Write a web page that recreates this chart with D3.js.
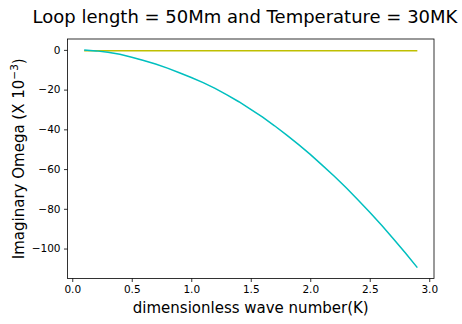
<!DOCTYPE html>
<meta charset="utf-8">
<script src="https://d3js.org/d3.v7.min.js"></script>
<style>
  body { margin: 0; background: #fff; }
  svg { display: block; font-family: "DejaVu Sans", sans-serif; }
</style>
<body>
<svg id="chart" width="462" height="324"></svg>
<script>
// wave number K
var waveK = [0.1, 0.2, 0.3, 0.4, 0.5, 0.6, 0.7, 0.8, 0.9, 1.0,
             1.1, 1.2, 1.3, 1.4, 1.5, 1.6, 1.7, 1.8, 1.9, 2.0,
             2.1, 2.2, 2.3, 2.4, 2.5, 2.6, 2.7, 2.8, 2.9];
// imaginary omega (x 10^-3), cyan curve
var omegaCyan = [0.0, -0.5, -1.2, -2.2, -3.7, -5.3, -7.1, -9.2, -11.5, -13.9,
                 -16.5, -19.4, -22.6, -26.1, -29.9, -33.9, -38.2, -42.8, -47.6, -52.6,
                 -58.0, -63.5, -69.3, -75.4, -81.7, -88.3, -95.2, -102.2, -109.6];
// yellow curve, flat near zero
var omegaYellow = [-0.4, -0.4, -0.4, -0.4, -0.4, -0.4, -0.4, -0.4, -0.4, -0.4,
                   -0.4, -0.4, -0.4, -0.4, -0.4, -0.4, -0.4, -0.4, -0.4, -0.4,
                   -0.4, -0.4, -0.4, -0.4, -0.4, -0.4, -0.4, -0.4, -0.4];
var xTicks = [0.0, 0.5, 1.0, 1.5, 2.0, 2.5, 3.0];
var yTicks = [0, -20, -40, -60, -80, -100];

var svg = d3.select("#chart");
var margin = {left: 67.5, right: 28, top: 39, bottom: 45.5};
var width = 462 - margin.left - margin.right,
    height = 324 - margin.top - margin.bottom;

// matplotlib style 5% padding
function padded(lo, hi) {
  var p = (hi - lo) * 0.05;
  return [lo - p, hi + p];
}
var allY = omegaCyan.concat(omegaYellow);
var x = d3.scaleLinear()
  .domain(padded(d3.min(waveK), d3.max(waveK)))
  .range([0, width]);
var y = d3.scaleLinear()
  .domain(padded(d3.min(allY), d3.max(allY)))
  .range([height, 0]);

var g = svg.append("g")
  .attr("transform", "translate(" + margin.left + "," + margin.top + ")");

var line = d3.line()
  .x(function (d) { return x(d[0]); })
  .y(function (d) { return y(d[1]); });

g.append("path")
  .datum(d3.zip(waveK, omegaYellow))
  .attr("d", line)
  .attr("fill", "none")
  .attr("stroke", "#bfbf00")
  .attr("stroke-width", 1.5);

g.append("path")
  .datum(d3.zip(waveK, omegaCyan))
  .attr("d", line)
  .attr("fill", "none")
  .attr("stroke", "#00bfbf")
  .attr("stroke-width", 1.5);

// axes
var xAxis = g.append("g")
  .attr("transform", "translate(0," + height + ")")
  .call(d3.axisBottom(x).tickValues(xTicks).tickFormat(d3.format(".1f"))
    .tickSize(3.5).tickPadding(3.5));
var yAxis = g.append("g")
  .call(d3.axisLeft(y).tickValues(yTicks)
    .tickFormat(function (d) { return d < 0 ? "\u2212" + Math.abs(d) : d; })
    .tickSize(3.5).tickPadding(3.5));

[xAxis, yAxis].forEach(function (a) {
  a.select(".domain").remove();
  a.selectAll("line").attr("stroke", "#000").attr("stroke-width", 0.8);
  a.selectAll("text").attr("fill", "#000")
    .style("font-family", "DejaVu Sans").style("font-size", "10.5px");
});

// frame
g.append("rect")
  .attr("width", width)
  .attr("height", height)
  .attr("fill", "none")
  .attr("stroke", "#000")
  .attr("stroke-width", 0.8);

// title + labels
svg.append("text")
  .attr("x", 245)
  .attr("y", 22.5)
  .attr("text-anchor", "middle")
  .style("font-size", "18px")
  .text("Loop length = 50Mm and Temperature = 30MK");

svg.append("text")
  .attr("x", margin.left + width / 2)
  .attr("y", 313)
  .attr("text-anchor", "middle")
  .style("font-size", "15px")
  .text("dimensionless wave number(K)");

var yl = svg.append("text")
  .attr("transform", "translate(24," + (margin.top + height / 2) + ") rotate(-90)")
  .attr("text-anchor", "middle")
  .style("font-size", "15px");
yl.append("tspan").text("Imaginary Omega (X 10");
yl.append("tspan").attr("dy", -6).style("font-size", "10.5px").text("\u22123");
yl.append("tspan").attr("dy", 6).text(")");
</script>
</body>
